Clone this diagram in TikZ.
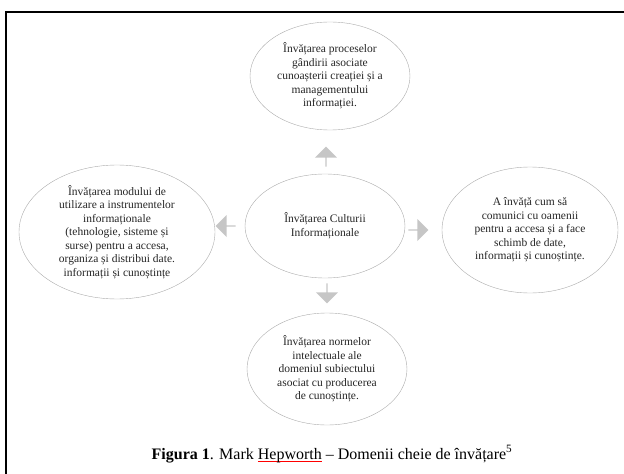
\documentclass[tikz,border=0pt]{standalone}
\usepackage{fontspec}
\setmainfont{Liberation Serif}
\usetikzlibrary{shapes.geometric, shapes.arrows}
\newlength{\latime}
\newcommand{\subliniat}[1]{\settowidth{\latime}{#1}\rlap{\color{red}\rule[-2.5pt]{\latime}{0.8pt}}#1}
\tikzstyle{domeniu} = [ellipse, 
draw=gray!65, 
fill=white, 
align=center, 
inner sep=0pt, 
text=black!85, 
font=\fontsize{11.5}{13.5}\selectfont]
\tikzstyle{sageata} = [single arrow, 
fill=gray!45, 
minimum height=20pt, 
minimum width=22pt, 
single arrow head extend=3pt, 
inner sep=0pt]
\begin{document}
\begin{tikzpicture}[x=1pt, y=1pt, node distance=150pt]
  \useasboundingbox (-325,-248) rectangle (299,226);
  \draw [line width=2pt] (-319,-248) -- (-319,214) -- (299,214);

  \node (cultura) [domeniu, minimum width=160pt, minimum height=104pt] {Învățarea Culturii\\Informaționale};
  \node (procese) [domeniu, above of=cultura, xshift=5pt, minimum width=160pt, minimum height=108pt] {Învățarea proceselor\\gândirii asociate\\cunoașterii creației și a\\managementului\\informației.};
  \node (instrumente) [domeniu, node distance=208pt, left of=cultura, yshift=-6pt, minimum width=196pt, minimum height=134pt] {Învățarea modului de\\utilizare a instrumentelor\\informaționale\\(tehnologie, sisteme și\\surse) pentru a accesa,\\organiza și distribui date.\\informații și cunoștințe};
  \node (comunicare) [domeniu, node distance=205pt, right of=cultura, yshift=-4pt, minimum width=176pt, minimum height=126pt] {A învăță cum să\\comunici cu oamenii\\pentru a accesa și a face\\schimb de date,\\informații și cunoștințe.};
  \node (norme) [domeniu, node distance=143pt, below of=cultura, xshift=2pt, minimum width=160pt, minimum height=112pt] {Învățarea normelor\\intelectuale ale\\domeniul subiectului\\asociat cu producerea\\de cunoștințe.};

  \node (sagsus) [sageata, shape border rotate=90, node distance=69pt, above of=cultura, xshift=1pt] {};
  \node (sagstanga) [sageata, shape border rotate=180, node distance=99pt, left of=cultura] {};
  \node (sagdreapta) [sageata, node distance=93pt, right of=cultura, yshift=-4pt] {};
  \node (sagjos) [sageata, shape border rotate=270, node distance=67pt, below of=cultura, xshift=2pt] {};

  \node (titlu) [node distance=228pt, below of=cultura, xshift=7pt, font=\fontsize{16}{18}\selectfont] {\textbf{Figura 1}. Mark \subliniat{Hepworth} – Domenii cheie de învățare\textsuperscript{5}};
\end{tikzpicture}
\end{document}
